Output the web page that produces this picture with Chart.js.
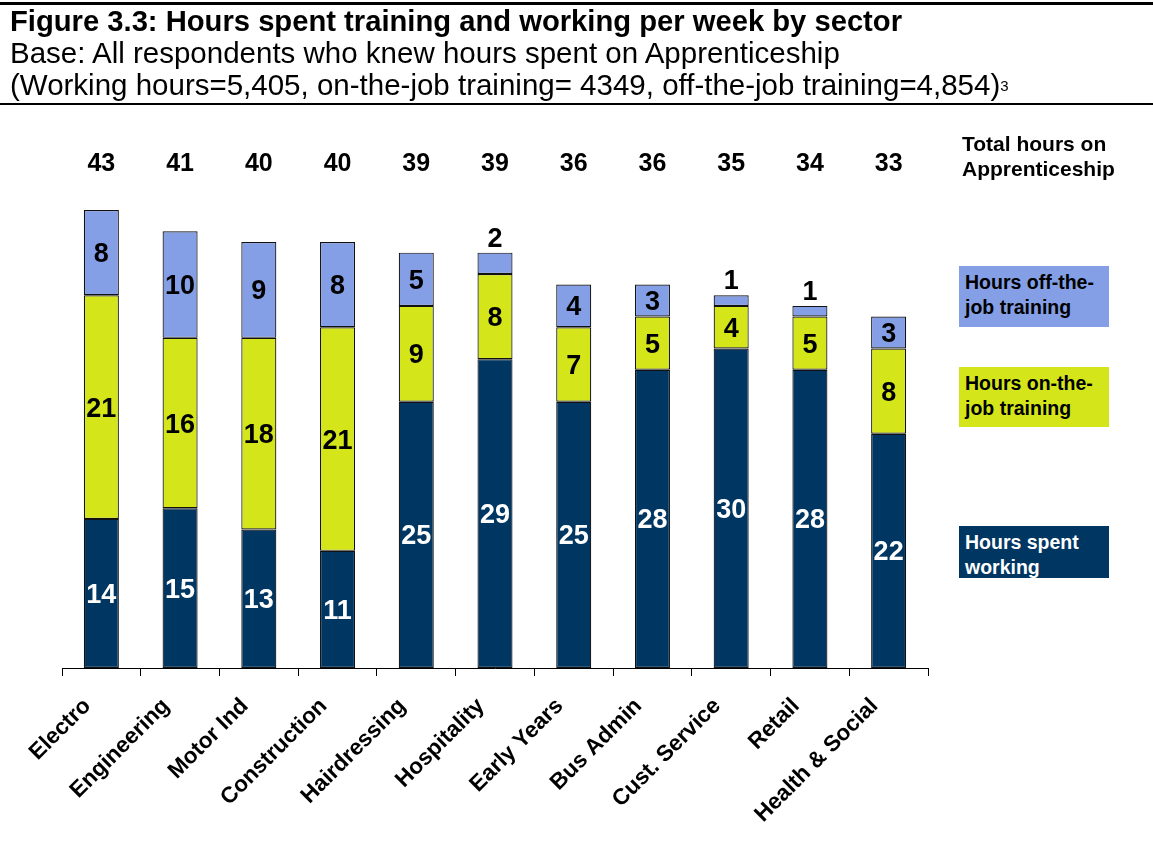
<!DOCTYPE html>
<html>
<head>
<meta charset="utf-8">
<script src="https://cdn.jsdelivr.net/npm/chart.js@4.4.0/dist/chart.umd.min.js"></script>
<style>
  body { margin: 0; background: #fff; font-family: "Liberation Sans", Arial, sans-serif; }
  #wrap { position: relative; width: 1153px; height: 849px; overflow: hidden; }
  #chart { position: absolute; left: 0; top: 0; }
  .rule { position: absolute; left: 0; width: 1153px; background: #000; }
  .head { position: absolute; left: 10px; white-space: nowrap; color: #000; font-size: 29.5px; line-height: 32px; }
  .head b { font-weight: bold; font-size: 29.2px; }
  .head sup { font-size: 15px; vertical-align: 0; position: relative; top: -4px; }
  .note { position: absolute; left: 962px; top: 131px; font-weight: bold; font-size: 21px; line-height: 25px; color: #000; }
  .key { position: absolute; left: 959px; width: 150px; box-sizing: border-box; padding: 4px 0 0 6px;
         font-weight: bold; font-size: 19.5px; line-height: 25px; }
</style>
</head>
<body>
<div id="wrap">
  <canvas id="chart" width="1153" height="849"></canvas>
  <div class="rule" style="top:2px;height:3px"></div>
  <div class="rule" style="top:103px;height:2px"></div>
  <div class="head" style="top:5px"><b>Figure 3.3: Hours spent training and working per week by sector</b></div>
  <div class="head" style="top:37px">Base: All respondents who knew hours spent on Apprenticeship</div>
  <div class="head" style="top:69px">(Working hours=5,405, on-the-job training= 4349, off-the-job training=4,854)<sup>3</sup></div>
  <div class="note">Total hours on<br>Apprenticeship</div>
  <div id="keys"></div>
</div>
<script>
// hours per week
const sectors = ['Electro', 'Engineering', 'Motor Ind', 'Construction', 'Hairdressing', 'Hospitality',
  'Early Years', 'Bus Admin', 'Cust. Service', 'Retail', 'Health & Social'];
const working = [14, 15, 13, 11, 25, 29, 25, 28, 30, 28, 22];
const onJob = [21, 16, 18, 21, 9, 8, 7, 5, 4, 5, 8];
const offJob = [8, 10, 9, 8, 5, 2, 4, 3, 1, 1, 3];
const totals = [43, 41, 40, 40, 39, 39, 36, 36, 35, 34, 33];

const NAVY = '#003662';
const LIME = '#d4e61a';
const BLUE = '#849fe6';
const FONT = '"Liberation Sans", Arial, sans-serif';

// legend boxes on the right
const keys = [
  { text: 'Hours off-the-<br>job training', bg: BLUE, fg: '#000', top: 266, h: 61 },
  { text: 'Hours on-the-<br>job training', bg: LIME, fg: '#000', top: 367, h: 60 },
  { text: 'Hours spent<br>working', bg: NAVY, fg: '#fff', top: 526, h: 52 },
];
document.getElementById('keys').innerHTML = keys.map(k =>
  `<div class="key" style="top:${k.top}px;height:${k.h}px;background:${k.bg};color:${k.fg}">${k.text}</div>`
).join('');

const barLabels = {
  id: 'barLabels',
  afterDatasetsDraw(chart) {
    const ctx = chart.ctx;
    ctx.save();
    ctx.textAlign = 'center';
    ctx.textBaseline = 'alphabetic';
    chart.data.datasets.forEach((ds, i) => {
      const meta = chart.getDatasetMeta(i);
      ctx.font = 'bold 27px ' + FONT;
      ctx.fillStyle = ds.labelColor;
      meta.data.forEach((bar, j) => {
        const v = ds.data[j];
        if (i === 2 && v <= 2) {
          ctx.fillStyle = '#000';
          ctx.fillText(v, bar.x, bar.y - 6);
          ctx.fillStyle = ds.labelColor;
        } else {
          ctx.fillText(v, bar.x, (bar.y + bar.base) / 2 + 9.5);
        }
      });
    });
    // totals row
    const top = chart.getDatasetMeta(2);
    ctx.font = 'bold 25px ' + FONT;
    ctx.fillStyle = '#000';
    top.data.forEach((bar, j) => ctx.fillText(totals[j], bar.x, 171));
    ctx.restore();
  }
};

new Chart(document.getElementById('chart'), {
  type: 'bar',
  data: {
    labels: sectors,
    datasets: [
      { label: 'Hours spent working', data: working, backgroundColor: NAVY, labelColor: '#fff' },
      { label: 'Hours on-the-job training', data: onJob, backgroundColor: LIME, labelColor: '#000' },
      { label: 'Hours off-the-job training', data: offJob, backgroundColor: BLUE, labelColor: '#000' },
    ].map(d => Object.assign(d, {
      borderColor: '#111', borderWidth: 1.2, borderSkipped: false,
      categoryPercentage: 1, barPercentage: 0.445,
    })),
  },
  options: {
    responsive: false,
    animation: false,
    layout: { padding: { left: 62, right: 225, top: 135.5, bottom: 0 } },
    plugins: { legend: { display: false }, tooltip: { enabled: false } },
    scales: {
      x: {
        stacked: true,
        grid: { drawOnChartArea: false, drawTicks: true, tickLength: 8, color: '#000', offset: true },
        border: { display: true, color: '#000', width: 1 },
        ticks: {
          autoSkip: false, minRotation: 45, maxRotation: 45, padding: 17, labelOffset: -14,
          color: '#000', font: { family: FONT, size: 22.5, weight: 'bold' },
        },
        afterFit(scale) { scale.height = 181; },
      },
      y: { stacked: true, display: false, min: 0, max: 50 },
    },
  },
  plugins: [barLabels],
});
</script>
</body>
</html>
